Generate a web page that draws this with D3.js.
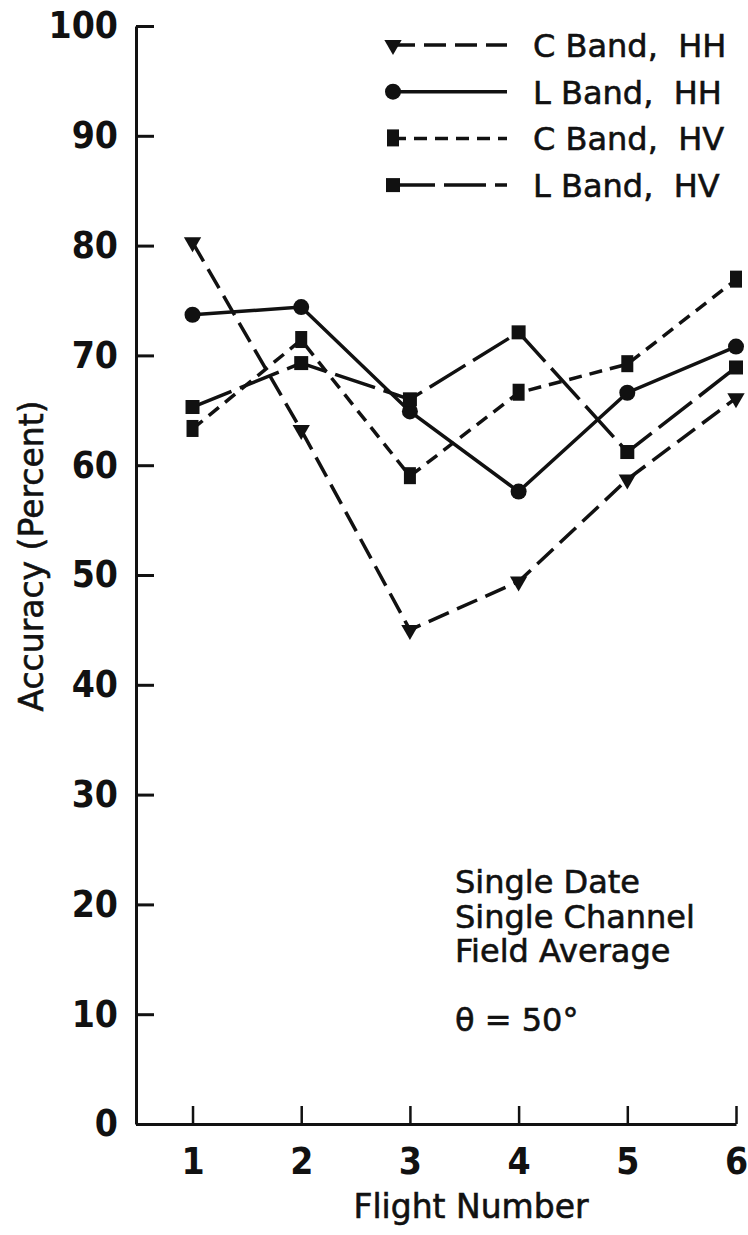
<!DOCTYPE html>
<html>
<head>
<meta charset="utf-8">
<script src="https://cdn.jsdelivr.net/npm/d3@7"></script>
<style>
  html, body { margin: 0; padding: 0; background: #fff; }
  svg { display: block; }
  text { fill: #111; }
</style>
</head>
<body>
<svg id="chart" width="748" height="1235"></svg>
<script>
// Classification accuracy per flight for each band / polarization
const flights = [1, 2, 3, 4, 5, 6];
const cBandHH = [80.3, 63.2, 45.0, 49.4, 58.7, 66.1];
const lBandHH = [73.7, 74.4, 64.9, 57.6, 66.6, 70.8];
const cBandHV = [63.3, 71.4, 59.0, 66.6, 69.2, 76.9];
const lBandHV = [65.3, 69.3, 66.0, 72.1, 61.2, 68.9];
const seriesNames = ["C Band,  HH", "L Band,  HH", "C Band,  HV", "L Band,  HV"];
const yTicks = [0, 10, 20, 30, 40, 50, 60, 70, 80, 90, 100];
const noteLines = ["Single Date", "Single Channel", "Field Average", "\u03B8 = 50\u00B0"];

const series = [
  { name: seriesNames[0], values: cBandHH, marker: "triDown", dash: "22,9" },
  { name: seriesNames[1], values: lBandHH, marker: "circle",  dash: null },
  { name: seriesNames[2], values: cBandHV, marker: "barSq",   dash: "13,8" },
  { name: seriesNames[3], values: lBandHV, marker: "square",  dash: "42,9" }
];

const svg = d3.select("#chart");
const ink = "#111";
const textFont = "'DejaVu Sans', sans-serif";
const digitFont = "'Liberation Sans Narrow', 'DejaVu Sans Condensed', sans-serif";

const x = d3.scaleLinear().domain([0.48, 6]).range([136, 736]);
const y = d3.scaleLinear().domain([0, 100]).range([1124, 26]);

// Y axis: ticks point into the plot
const yAxis = svg.append("g")
  .attr("transform", `translate(${x(0.48)},0)`)
  .call(d3.axisLeft(y).tickValues(yTicks).tickSize(-18).tickSizeOuter(0).tickPadding(18));
yAxis.select(".domain").attr("stroke", ink).attr("stroke-width", 3);
yAxis.selectAll(".tick line").attr("stroke", ink).attr("stroke-width", 3);
yAxis.selectAll(".tick text")
  .attr("font-family", digitFont).attr("font-size", 37).attr("font-weight", "bold")
  .attr("fill", ink);

// X axis
const xAxis = svg.append("g")
  .attr("transform", `translate(0,${y(0)})`)
  .call(d3.axisBottom(x).tickValues(flights).tickSize(-18).tickSizeOuter(0).tickPadding(24)
    .tickFormat(d3.format("d")));
xAxis.select(".domain").attr("stroke", ink).attr("stroke-width", 3);
xAxis.selectAll(".tick line").attr("stroke", ink).attr("stroke-width", 2.5);
xAxis.selectAll(".tick text")
  .attr("font-family", digitFont).attr("font-size", 37).attr("font-weight", "bold")
  .attr("fill", ink);

// Axis titles
svg.append("text")
  .attr("transform", `translate(43,${556}) rotate(-90)`)
  .attr("text-anchor", "middle")
  .attr("font-family", textFont).attr("font-size", 33)
  .attr("stroke", ink).attr("stroke-width", 0.6)
  .text("Accuracy (Percent)");

svg.append("text")
  .attr("x", 471).attr("y", 1218)
  .attr("text-anchor", "middle")
  .attr("font-family", textFont).attr("font-size", 33)
  .attr("stroke", ink).attr("stroke-width", 0.6)
  .text("Flight Number");

// Marker drawing
function drawMarker(g, kind) {
  if (kind === "triDown") {
    g.append("path")
      .attr("d", d3.symbol().type(d3.symbolTriangle).size(130)())
      .attr("transform", "rotate(180)")
      .attr("fill", ink);
  } else if (kind === "circle") {
    g.append("circle").attr("r", 8).attr("fill", ink);
  } else if (kind === "square") {
    g.append("rect").attr("x", -7).attr("y", -7).attr("width", 14).attr("height", 14).attr("fill", ink);
  } else if (kind === "barSq") {
    g.append("rect").attr("x", -6).attr("y", -9).attr("width", 12).attr("height", 17).attr("fill", ink);
  }
}

const line = d3.line()
  .x((d, i) => x(flights[i]))
  .y(d => y(d));

const plot = svg.append("g");
series.forEach(s => {
  plot.append("path")
    .datum(s.values)
    .attr("d", line)
    .attr("fill", "none")
    .attr("stroke", ink)
    .attr("stroke-width", 3.5)
    .attr("stroke-dasharray", s.dash);
});
series.forEach(s => {
  s.values.forEach((v, i) => {
    const g = plot.append("g").attr("transform", `translate(${x(flights[i])},${y(v)})`);
    drawMarker(g, s.marker);
  });
});

// Legend
const legend = svg.append("g");
series.forEach((s, i) => {
  const ly = 45 + i * 46.7;
  legend.append("line")
    .attr("x1", 393).attr("x2", 507).attr("y1", ly).attr("y2", ly)
    .attr("stroke", ink).attr("stroke-width", 3.5)
    .attr("stroke-dasharray", s.dash);
  const g = legend.append("g").attr("transform", `translate(393,${ly})`);
  drawMarker(g, s.marker);
  legend.append("text")
    .attr("x", 533).attr("y", ly + 12)
    .attr("font-family", textFont).attr("font-size", 32)
    .attr("stroke", ink).attr("stroke-width", 0.6)
    .attr("xml:space", "preserve")
    .style("white-space", "pre")
    .text(s.name);
});

// Conditions note; the angle line sits a little lower than the rest
svg.append("g").selectAll("text")
  .data(noteLines)
  .join("text")
  .attr("x", 455)
  .attr("y", (d, i) => 893 + i * 34.5 + (i === 3 ? 34 : 0))
  .attr("font-family", textFont).attr("font-size", 32)
  .attr("stroke", ink).attr("stroke-width", 0.6)
  .text(d => d);
</script>
</body>
</html>
